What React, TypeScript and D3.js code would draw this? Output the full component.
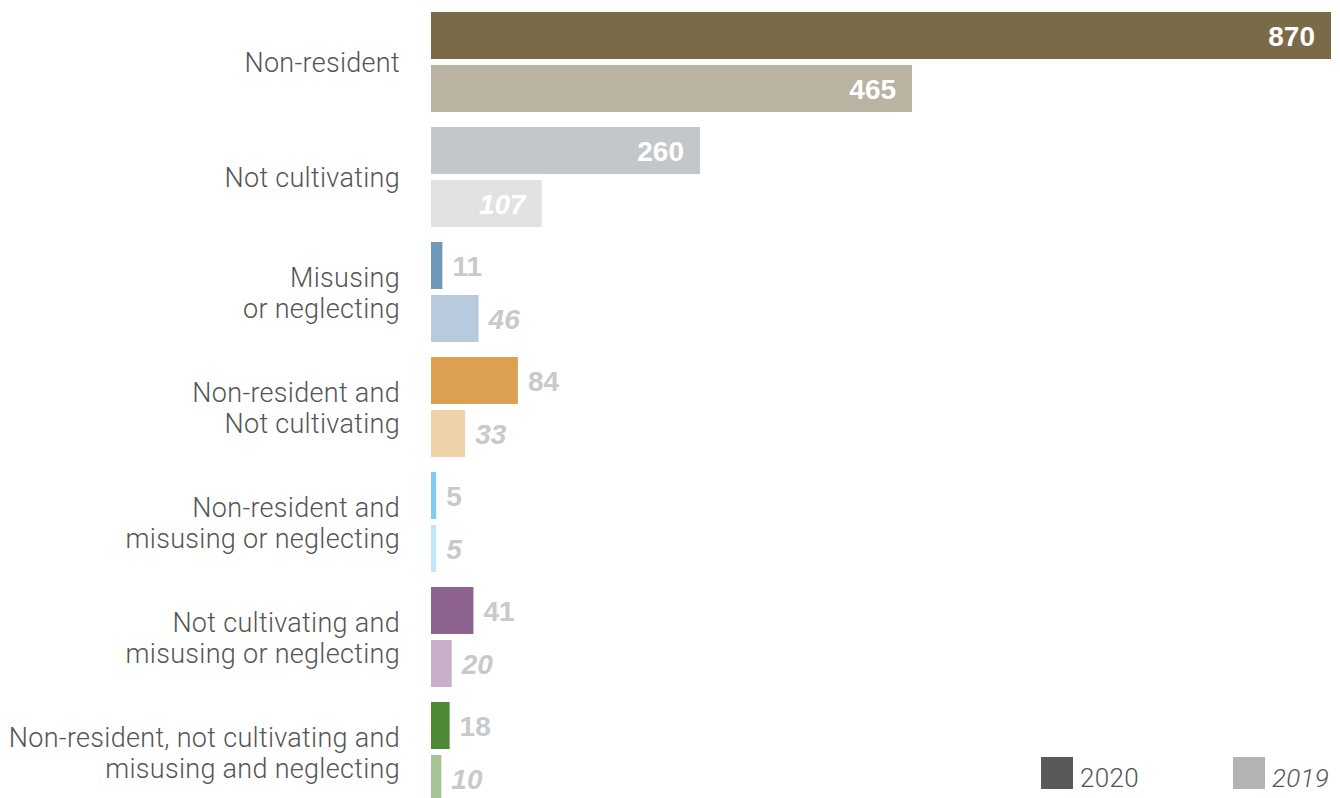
import React from "react";
import * as d3 from "d3";

const categories: string[][] = [
  ["Non-resident"],
  ["Not cultivating"],
  ["Misusing", "or neglecting"],
  ["Non-resident and", "Not cultivating"],
  ["Non-resident and", "misusing or neglecting"],
  ["Not cultivating and", "misusing or neglecting"],
  ["Non-resident, not cultivating and", "misusing and neglecting"],
];
const values2020 = [870, 260, 11, 84, 5, 41, 18];
const values2019 = [465, 107, 46, 33, 5, 20, 10];
const colors2020 = ["#7a6a48", "#c4c7ca", "#6e99bb", "#dca052", "#7fcdf0", "#8f638f", "#4e8a35"];
const colors2019 = ["#bab3a1", "#e1e2e4", "#b8cbdc", "#efd2a8", "#c0e6f8", "#c8afc7", "#a5c494"];
const legendLabels = ["2020", "2019"];
const legendColors = ["#595959", "#b3b3b3"];

const W = 1340;
const H = 798;

export default function App() {
  const x = d3.scaleLinear().domain([0, 870]).range([431, 1331]);
  const step = 115;
  const y = d3
    .scaleBand<number>()
    .domain(d3.range(categories.length))
    .range([12, 12 + step * categories.length - 15])
    .paddingInner(15 / step)
    .paddingOuter(0);
  const barH = 47;
  const gap = 6;
  const labelFont = "Roboto, 'Helvetica Neue', 'Liberation Sans', Arial, sans-serif";
  const valueFont = "'Liberation Sans', 'Helvetica Neue', Arial, sans-serif";

  const renderBar = (v: number, i: number, which: 0 | 1) => {
    const y0 = (y(i) as number) + (which === 0 ? 0 : barH + gap);
    const x1 = x(v);
    const w = x1 - x(0);
    const inside = w > 100;
    const italic = which === 1 && !(i === 0);
    return (
      <g key={`${i}-${which}`}>
        <rect
          x={x(0)}
          y={y0}
          width={Math.max(w, 5)}
          height={barH}
          fill={which === 0 ? colors2020[i] : colors2019[i]}
        />
        <text
          x={inside ? x1 - 16 : x(0) + Math.max(w, 5) + 10}
          y={y0 + barH / 2}
          dy="0.36em"
          textAnchor={inside ? "end" : "start"}
          fill={inside ? "#ffffff" : "#c8c9cb"}
          fontFamily={valueFont}
          fontWeight="bold"
          fontStyle={italic ? "italic" : "normal"}
          fontSize={28}
        >
          {v}
        </text>
      </g>
    );
  };

  return (
    <svg
      width={W}
      height={H}
      style={{ position: "absolute", left: 0, top: 0, display: "block", background: "#fff" }}
    >
      {categories.map((lines, i) => {
        const yc = (y(i) as number) + y.bandwidth() / 2 + 1;
        const lh = 31;
        const start = yc - ((lines.length - 1) * lh) / 2;
        return (
          <text
            key={`lab-${i}`}
            x={400}
            textAnchor="end"
            fill="#555555"
            fontFamily={labelFont}
            fontWeight={300}
            fontSize={27}
            letterSpacing={0.3}
          >
            {lines.map((l, j) => (
              <tspan key={j} x={400} y={start + j * lh} dy="0.35em">
                {l}
              </tspan>
            ))}
          </text>
        );
      })}
      {values2020.map((v, i) => renderBar(v, i, 0))}
      {values2019.map((v, i) => renderBar(v, i, 1))}
      {legendLabels.map((l, k) => {
        const lx = k === 0 ? 1041 : 1233;
        return (
          <g key={`leg-${k}`}>
            <rect x={lx} y={757} width={32} height={32} fill={legendColors[k]} />
            <text
              x={lx + 39}
              y={787}
              fill="#555555"
              fontFamily={labelFont}
              fontWeight={300}
              fontStyle={k === 1 ? "italic" : "normal"}
              fontSize={26}
              letterSpacing={0.3}
            >
              {l}
            </text>
          </g>
        );
      })}
    </svg>
  );
}
